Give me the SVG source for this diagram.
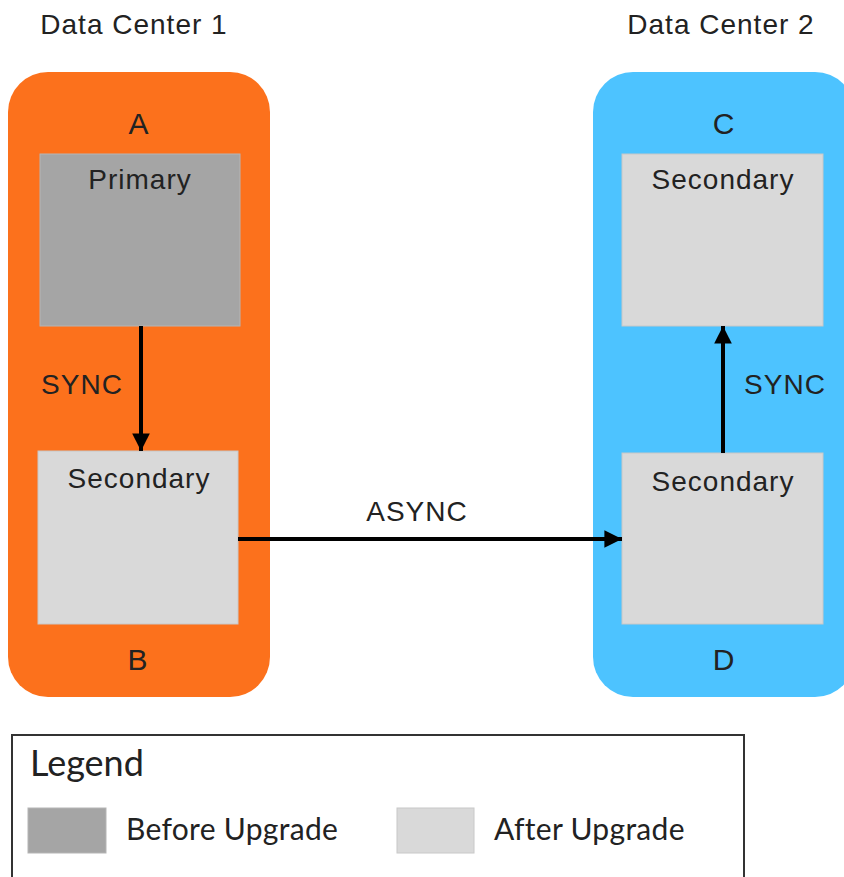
<svg xmlns="http://www.w3.org/2000/svg" width="844" height="877" viewBox="0 0 844 877">
<style>
.t{font-family:"Liberation Sans",Arial,sans-serif;font-size:28px;fill:#222;text-anchor:middle;letter-spacing:1px}
.lg{font-family:Lato,"Liberation Sans",sans-serif;fill:#222}
.before{fill:#A5A5A5;stroke:#B5B5B5;stroke-width:1}
.after{fill:#D9D9D9;stroke:#C8C8C8;stroke-width:1}
.conn{stroke:#000;stroke-width:4;fill:none}
</style>
<defs>
<marker id="ah" viewBox="0 0 10 10" refX="10" refY="5" markerWidth="4.4" markerHeight="4.4" orient="auto" markerUnits="strokeWidth">
<path d="M0,0 L10,5 L0,10 z" fill="#000"/>
</marker>
</defs>
<rect width="844" height="877" fill="#fff"/>
<g id="titles">
<text class="t" x="134" y="34">Data Center 1</text>
<text class="t" x="721" y="34">Data Center 2</text>
</g>
<g id="dc1">
<rect x="8" y="72" width="262" height="625" rx="40" ry="40" fill="#FC711C"/>
<text class="t" x="139" y="134" style="font-size:30px">A</text>
<text class="t" x="138" y="670" style="font-size:30px">B</text>
</g>
<g id="dc2">
<rect x="593" y="72" width="262" height="625" rx="40" ry="40" fill="#4DC3FF"/>
<text class="t" x="724" y="134" style="font-size:30px">C</text>
<text class="t" x="724" y="670" style="font-size:30px">D</text>
</g>
<g id="nodeA">
<rect class="before" x="40" y="154" width="200" height="172"/>
<text class="t" x="140" y="189">Primary</text>
</g>
<g id="nodeB">
<rect class="after" x="38" y="451" width="200" height="173"/>
<text class="t" x="139" y="488">Secondary</text>
</g>
<g id="nodeC">
<rect class="after" x="622" y="154" width="201" height="172"/>
<text class="t" x="723" y="189">Secondary</text>
</g>
<g id="nodeD">
<rect class="after" x="622" y="453" width="201" height="171"/>
<text class="t" x="723" y="491">Secondary</text>
</g>
<g id="connectors">
<line class="conn" x1="141" y1="326" x2="141" y2="451" marker-end="url(#ah)"/>
<line class="conn" x1="723" y1="453" x2="723" y2="326" marker-end="url(#ah)"/>
<line class="conn" x1="238" y1="539" x2="622" y2="539" marker-end="url(#ah)"/>
<text class="t" x="82" y="394">SYNC</text>
<text class="t" x="785" y="394">SYNC</text>
<text class="t" x="417" y="521">ASYNC</text>
</g>
<g id="legend">
<rect x="12" y="735" width="732" height="170" fill="#fff" stroke="#333" stroke-width="2"/>
<text class="lg" x="30" y="776" style="font-size:36px">Legend</text>
<rect class="before" x="28" y="808" width="78" height="45"/>
<text class="lg" x="126" y="840" style="font-size:30px;letter-spacing:0.3px">Before Upgrade</text>
<rect class="after" x="397" y="808" width="77" height="45"/>
<text class="lg" x="494" y="840" style="font-size:30px;letter-spacing:0.3px">After Upgrade</text>
</g>
</svg>
